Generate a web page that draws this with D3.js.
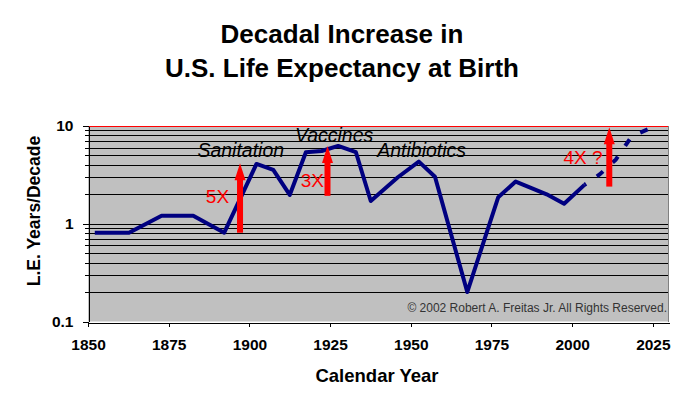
<!DOCTYPE html>
<html>
<head>
<meta charset="utf-8">
<script src="https://cdn.jsdelivr.net/npm/d3@7"></script>
<style>
    html, body { margin: 0; padding: 0; background: #fff; }
    svg { display: block; font-family: Arial, 'Liberation Sans', sans-serif; }
</style>
</head>
<body>
<div id="chart"></div>
<script>
// decadal increase in life expectancy (years per decade)
const years = [1852.1, 1862.7, 1872.8, 1882.6, 1892.2, 1902.2, 1907.4, 1912.5, 1917.5, 1922.4,
    1927.5, 1933.0, 1937.6, 1946.0, 1952.5, 1957.5, 1967.5, 1977.1, 1982.5, 1992.1, 1997.5, 2003.8];
const increase = [0.81, 0.81, 1.21, 1.21, 0.81, 4.09, 3.55, 1.97, 5.39, 5.55,
    6.25, 5.39, 1.71, 2.99, 4.32, 3.03, 0.2, 1.87, 2.7, 2.0, 1.6, 2.5];

// projection (dashed)
const projYears = [2003.8, 2008.5, 2013.5, 2018.5, 2023.5];
const projIncrease = [2.5, 3.19, 4.52, 7.9, 9.25];

// red arrows
const arrowYears = [1897.1, 1924.2, 2011.5];
const arrowFrom = [0.81, 1.93, 2.4];
const arrowTo = [4.16, 6.25, 9.7];
const arrowLabels = ['5X', '3X', '4X ?'];
const arrowLabelYears = [1886.5, 1915.9, 1997.3];
const arrowLabelValues = [1.64, 2.4, 4.09];

// era notes
const eraLabels = ['Sanitation', 'Vaccines', 'Antibiotics'];
const eraYears = [1883.9, 1914.1, 1939.6];
const eraValues = [4.86, 6.91, 4.86];

const xTicks = [1850, 1875, 1900, 1925, 1950, 1975, 2000, 2025];
const yTicks = [0.1, 1, 10];

const width = 688;
const height = 394;

const svg = d3.select('#chart')
    .append('svg')
    .attr('width', width)
    .attr('height', height);

const x = d3.scaleLinear().domain([1850, 2030]).range([88, 669]);
const y = d3.scaleLog().domain([0.1, 10]).range([321.5, 126]);

// title
svg.append('g')
    .attr('font-weight', 'bold')
    .attr('font-size', 26)
    .attr('text-anchor', 'middle')
    .selectAll('text')
    .data(['Decadal Increase in', 'U.S. Life Expectancy at Birth'])
    .join('text')
    .attr('x', 342)
    .attr('y', (d, i) => 43 + i * 34)
    .text(d => d);

// plot area
svg.append('rect')
    .attr('x', x.range()[0])
    .attr('y', y.range()[1])
    .attr('width', x.range()[1] - x.range()[0])
    .attr('height', y.range()[0] - y.range()[1])
    .attr('fill', '#c0c0c0');

const grid = y.ticks().filter(v => v > 0.1 && v < 10);
svg.append('g')
    .attr('stroke', '#000')
    .attr('shape-rendering', 'crispEdges')
    .selectAll('line')
    .data(grid)
    .join('line')
    .attr('x1', x.range()[0])
    .attr('x2', x.range()[1])
    .attr('y1', d => Math.round(y(d)) + 0.5)
    .attr('y2', d => Math.round(y(d)) + 0.5);

// top border is red, right border gray
svg.append('line')
    .attr('x1', x.range()[0]).attr('x2', x.range()[1])
    .attr('y1', y.range()[1] + 0.5).attr('y2', y.range()[1] + 0.5)
    .attr('stroke', '#ff0000')
    .attr('shape-rendering', 'crispEdges');
svg.append('line')
    .attr('x1', x.range()[1] - 0.5).attr('x2', x.range()[1] - 0.5)
    .attr('y1', y.range()[1]).attr('y2', y.range()[0])
    .attr('stroke', '#808080')
    .attr('shape-rendering', 'crispEdges');

// copyright
svg.append('text')
    .attr('x', 667)
    .attr('y', 312)
    .attr('text-anchor', 'end')
    .attr('font-size', 12)
    .attr('fill', '#333')
    .text('\u00a9 2002 Robert A. Freitas Jr. All Rights Reserved.');

// axes
const xAxis = svg.append('g')
    .attr('transform', `translate(0,${Math.round(y.range()[0]) + 0.5})`)
    .call(d3.axisBottom(x).tickValues(xTicks).tickFormat(d3.format('d'))
        .tickSize(4).tickSizeOuter(0).tickPadding(12));
xAxis.selectAll('text')
    .attr('font-size', 15.5)
    .attr('font-weight', 'bold')
    .attr('font-family', null)
    .attr('fill', '#000');

const yAxis = svg.append('g')
    .attr('transform', `translate(${x.range()[0] + 0.5},0)`)
    .call(d3.axisLeft(y).tickValues(yTicks).tickFormat(d => String(d))
        .tickSize(6).tickSizeOuter(0).tickPadding(9));
yAxis.selectAll('text')
    .attr('font-size', 15.5)
    .attr('font-weight', 'bold')
    .attr('font-family', null)
    .attr('fill', '#000');

// minor ticks on y
svg.append('g')
    .attr('stroke', '#000')
    .attr('shape-rendering', 'crispEdges')
    .selectAll('line')
    .data(grid.filter(v => v !== 1))
    .join('line')
    .attr('x1', x.range()[0] - 3)
    .attr('x2', x.range()[0])
    .attr('y1', d => Math.round(y(d)) + 0.5)
    .attr('y2', d => Math.round(y(d)) + 0.5);

svg.selectAll('.domain, .tick line').attr('shape-rendering', 'crispEdges');

// axis titles
svg.append('text')
    .attr('x', 377)
    .attr('y', 382)
    .attr('text-anchor', 'middle')
    .attr('font-size', 18.5)
    .attr('font-weight', 'bold')
    .text('Calendar Year');

svg.append('text')
    .attr('transform', 'translate(40,211) rotate(-90)')
    .attr('text-anchor', 'middle')
    .attr('font-size', 17.5)
    .attr('font-weight', 'bold')
    .text('L.E. Years/Decade');

// series
const line = d3.line()
    .x(d => x(d[0]))
    .y(d => y(d[1]));

svg.append('path')
    .datum(d3.zip(years, increase))
    .attr('d', line)
    .attr('fill', 'none')
    .attr('stroke', '#000080')
    .attr('stroke-width', 4)
    .attr('stroke-linejoin', 'round');

svg.append('path')
    .datum(d3.zip(projYears, projIncrease))
    .attr('d', line)
    .attr('fill', 'none')
    .attr('stroke', '#000080')
    .attr('stroke-width', 4)
    .attr('stroke-dasharray', '8,13')
    .attr('stroke-dashoffset', 6);

// arrows
const arrows = svg.append('g')
    .attr('fill', '#ff0000')
    .selectAll('g')
    .data(d3.range(arrowYears.length))
    .join('g');

arrows.append('rect')
    .attr('x', i => x(arrowYears[i]) - 3)
    .attr('y', i => y(arrowTo[i]) + 14)
    .attr('width', 6)
    .attr('height', i => y(arrowFrom[i]) - y(arrowTo[i]) - 14);

arrows.append('path')
    .attr('d', i => {
        const cx = x(arrowYears[i]);
        const top = y(arrowTo[i]);
        return `M${cx},${top}L${cx + 5.5},${top + 17}L${cx - 5.5},${top + 17}Z`;
    });

arrows.append('text')
    .attr('x', i => x(arrowLabelYears[i]))
    .attr('y', i => y(arrowLabelValues[i]))
    .attr('font-size', 19)
    .text(i => arrowLabels[i]);

svg.append('g')
    .attr('font-size', 19.5)
    .attr('font-style', 'italic')
    .selectAll('text')
    .data(eraLabels)
    .join('text')
    .attr('x', (d, i) => x(eraYears[i]))
    .attr('y', (d, i) => y(eraValues[i]))
    .text(d => d);
</script>
</body>
</html>
